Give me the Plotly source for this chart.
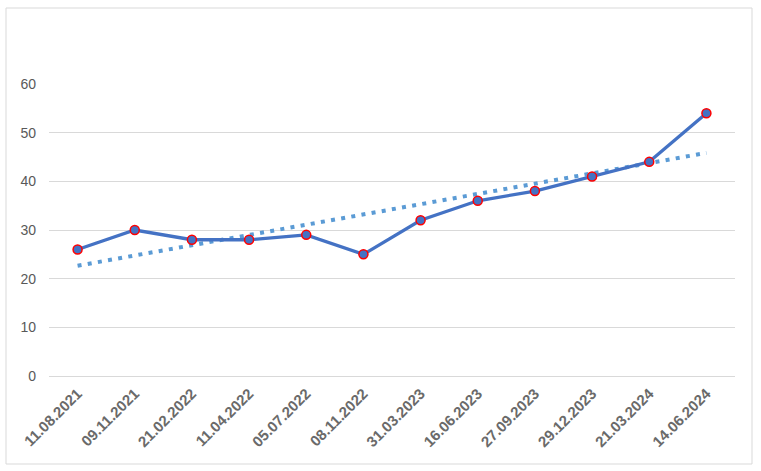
import numpy as np
import plotly.graph_objects as go

dates = ["11.08.2021", "09.11.2021", "21.02.2022", "11.04.2022", "05.07.2022", "08.11.2022",
         "31.03.2023", "16.06.2023", "27.09.2023", "29.12.2023", "21.03.2024", "14.06.2024"]
values = [26, 30, 28, 28, 29, 25, 32, 36, 38, 41, 44, 54]
y_ticks = [0, 10, 20, 30, 40, 50, 60]

idx = np.arange(len(values))
slope, intercept = np.polyfit(idx, values, 1)
trend = (slope * idx + intercept).tolist()

fig = go.Figure()
fig.add_trace(go.Scatter(
    x=dates, y=trend, mode="lines",
    line=dict(color="#5B9BD5", width=4, dash="4px,6.3px"),
    hoverinfo="skip", showlegend=False))
fig.add_trace(go.Scatter(
    x=dates, y=values, mode="lines+markers",
    line=dict(color="#4472C4", width=3.3),
    marker=dict(size=9, color="#4472C4", line=dict(color="#FF0000", width=1.5)),
    showlegend=False))

L, R, T, B = 49, 26, 84, 95
W, H = 761, 471
pw, ph = W - L - R, H - T - B

fig.update_layout(
    width=W, height=H,
    margin=dict(l=L, r=R, t=T, b=B),
    paper_bgcolor="white", plot_bgcolor="white",
    font=dict(family="Liberation Sans, Arial, sans-serif", color="#595959"),
    xaxis=dict(type="category", range=[-0.5, len(dates) - 0.5], tickangle=-45,
               showgrid=False, showline=False, zeroline=False, ticks="",
               tickfont=dict(size=15, color="#6A6A6A", weight="bold",
                             family="Liberation Sans, Arial, sans-serif"),
               ticklabelstandoff=5),
    yaxis=dict(range=[0, 60], tickvals=y_ticks, showgrid=True, gridcolor="#D9D9D9",
               gridwidth=1, zeroline=True, zerolinecolor="#D9D9D9", zerolinewidth=1,
               showline=False, ticks="", tickfont=dict(size=14, color="#595959"),
               ticklabelstandoff=12),
    shapes=[dict(type="rect", xref="paper", yref="paper",
                 x0=(6 - L) / pw, x1=(752 - L) / pw,
                 y0=-(464 - (T + ph)) / ph, y1=((T + ph) - 8) / ph,
                 line=dict(color="#D9D9D9", width=1), fillcolor="rgba(0,0,0,0)", layer="below")],
)

fig.write_html("out.html")
